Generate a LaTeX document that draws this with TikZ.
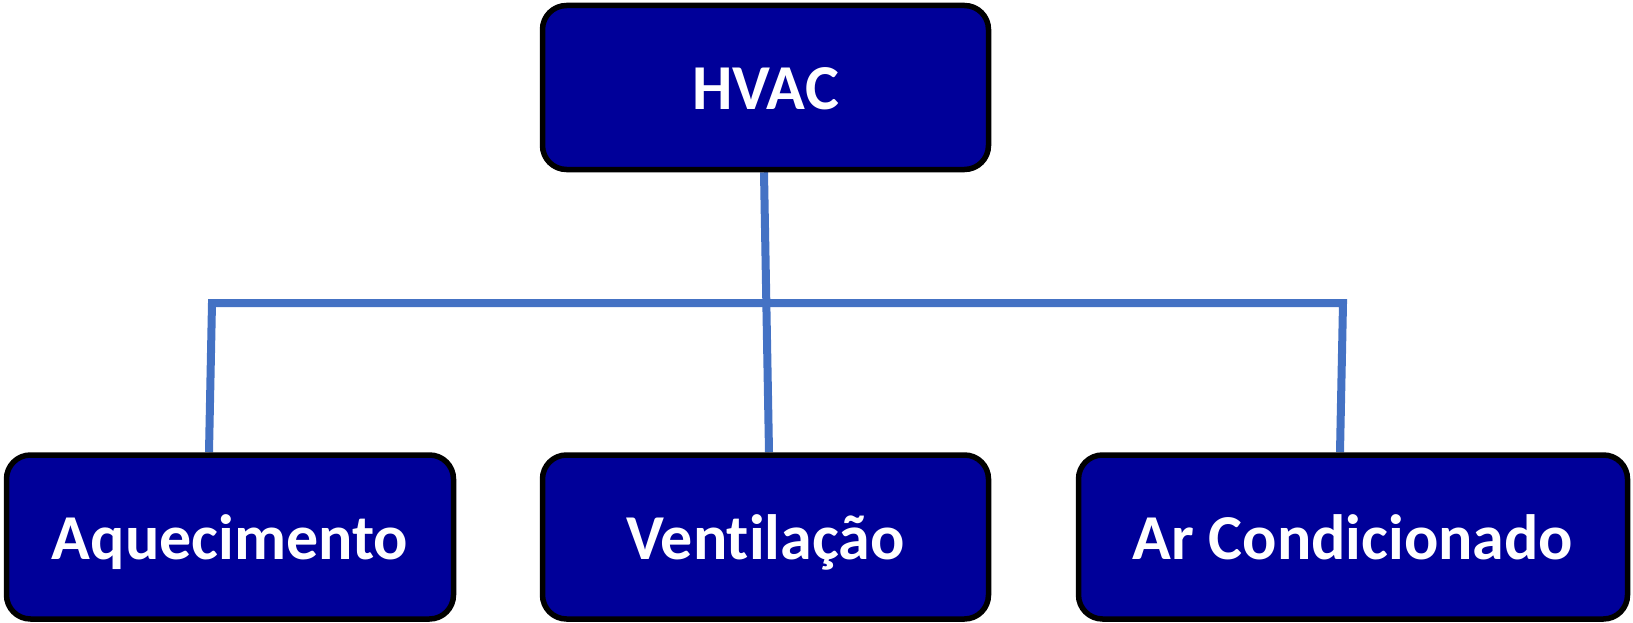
\documentclass[tikz,border=0pt]{standalone}
\usepackage{fontspec}
\setmainfont[Ligatures=NoCommon]{Carlito}
\usetikzlibrary{backgrounds,calc}
\definecolor{boxblue}{HTML}{000099}
\definecolor{linkblue}{HTML}{4472C4}
\tikzset{
  box/.style={draw=black, line width=5.5pt, fill=boxblue, rounded corners=24pt,
    text=white, font=\fontsize{64}{76}\selectfont\bfseries, inner sep=0pt,
    minimum height=164pt, text height=58pt, text depth=14pt},
  link/.style={draw=linkblue, line width=8pt}
}
\begin{document}
\begin{tikzpicture}[x=1pt,y=-1pt]
\useasboundingbox (0,0) rectangle (1633,623);
\node[box, minimum width=446pt] (top) at (765.5,87.5) {HVAC};
\node[box, minimum width=447pt] (b1) at (230,537) {Aquecimento};
\node[box, minimum width=446pt] (b2) at (765.5,537) {Ventilação};
\node[box, minimum width=549pt] (b3) at (1353,537) {Ar Condicionado};
\coordinate (hl) at (212,303);
\coordinate (hr) at (1343,303);
\begin{scope}[on background layer]
\draw[link] ([xshift=-1.5pt]top.south) -- ([xshift=3.5pt]b2.north);
\draw[link] ([xshift=-21pt]b1.north) -- (hl) -- (hr) -- ([xshift=-13pt]b3.north);
\end{scope}
\end{tikzpicture}
\end{document}
